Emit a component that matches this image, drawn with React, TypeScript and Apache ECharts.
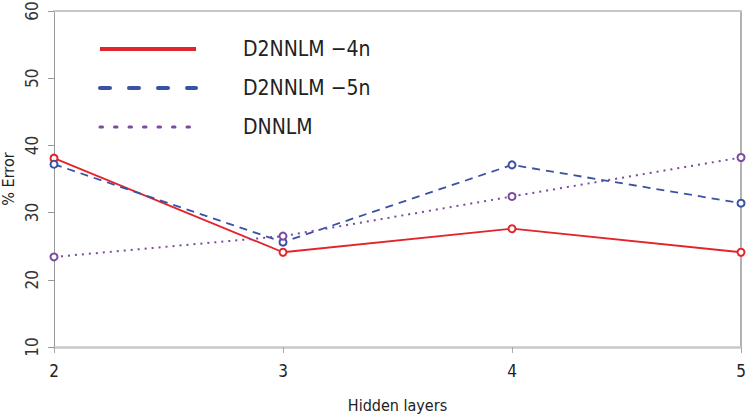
import React, { useEffect, useRef } from "react";
import * as echarts from "echarts";

const hiddenLayers = [2, 3, 4, 5];
const seriesNames = ["D2NNLM \u22124n", "D2NNLM \u22125n", "DNNLM"];
const d2nnlm4n = [38.1, 24.1, 27.6, 24.1];
const d2nnlm5n = [37.2, 25.6, 37.1, 31.4];
const dnnlm = [23.4, 26.5, 32.4, 38.2];
const colors = ["#e2242b", "#3a52a3", "#7a4b9e"];
const FONT = "'DejaVu Sans Condensed', 'Liberation Sans Narrow', sans-serif";

export default function App() {
  const ref = useRef<HTMLDivElement>(null);
  useEffect(() => {
    document.body.style.margin = "0";
    const chart = echarts.init(ref.current!, null, { renderer: "svg" });
    const toPairs = (vals: number[]) => hiddenLayers.map((x, i) => [x, vals[i]]);
    const lineTypes: any[] = ["solid", [8, 6], [2, 5]];
    const allVals = [d2nnlm4n, d2nnlm5n, dnnlm];
    const legendY = [49, 88, 127];
    const legendDash: any[] = [null, [10, 19], [2.5, 12]];
    const graphic: any[] = [];
    seriesNames.forEach((n, i) => {
      graphic.push({
        type: "line",
        shape: { x1: 100, y1: legendY[i], x2: 196, y2: legendY[i] },
        style: {
          stroke: colors[i],
          lineWidth: i === 2 ? 3 : 4,
          lineDash: legendDash[i] || undefined,
          lineCap: i === 0 ? "butt" : "round",
        },
      });
      graphic.push({
        type: "text",
        x: 243,
        y: legendY[i],
        style: {
          text: n,
          fill: "#222",
          font: `21px ${FONT}`,
          verticalAlign: "middle",
          align: "left",
        },
      });
    });
    chart.setOption({
      animation: false,
      grid: { left: 54, right: 6, top: 11, bottom: 70, containLabel: false, outerBoundsMode: "none" },
      xAxis: [
        {
          type: "value",
          min: 2,
          max: 5,
          interval: 1,
          name: "Hidden layers",
          nameLocation: "middle",
          nameGap: 50,
          nameMoveOverlap: false,
          nameTextStyle: { fontFamily: FONT, fontSize: 16, color: "#222" },
          axisLine: { lineStyle: { color: "#c8c8c8", width: 2.5 } },
          axisTick: { show: true, length: 6, lineStyle: { color: "#aaa" } },
          axisLabel: { fontFamily: FONT, fontSize: 17, color: "#222", margin: 15 },
          splitLine: { show: false },
        },
        {
          type: "value",
          position: "top",
          min: 2,
          max: 5,
          axisLine: { show: true, lineStyle: { color: "#c8c8c8", width: 2 } },
          axisTick: { show: false },
          axisLabel: { show: false },
          splitLine: { show: false },
        },
      ],
      yAxis: [
        {
          type: "value",
          min: 10,
          max: 60,
          interval: 10,
          name: "% Error",
          nameLocation: "middle",
          nameGap: 38,
          nameMoveOverlap: false,
          nameTextStyle: { fontFamily: FONT, fontSize: 16, color: "#222" },
          axisLine: { show: true, lineStyle: { color: "#999", width: 1 } },
          axisTick: { show: true, length: 6, lineStyle: { color: "#999" } },
          axisLabel: { fontFamily: FONT, fontSize: 17, color: "#333", rotate: 90, margin: 14 },
          splitLine: { show: false },
        },
        {
          type: "value",
          position: "right",
          min: 10,
          max: 60,
          axisLine: { show: true, lineStyle: { color: "#999", width: 1.5 } },
          axisTick: { show: false },
          axisLabel: { show: false },
          splitLine: { show: false },
        },
      ],
      graphic,
      series: allVals.map((vals, i) => ({
        name: seriesNames[i],
        type: "line",
        data: toPairs(vals),
        symbol: "emptyCircle",
        symbolSize: 7,
        clip: true,
        itemStyle: { color: colors[i], borderColor: colors[i], borderWidth: 1.8 },
        lineStyle: { color: colors[i], width: i === 2 ? 2 : 1.8, type: lineTypes[i] },
      })),
    });
    return () => chart.dispose();
  }, []);
  return <div ref={ref} style={{ width: 747, height: 417 }} />;
}
